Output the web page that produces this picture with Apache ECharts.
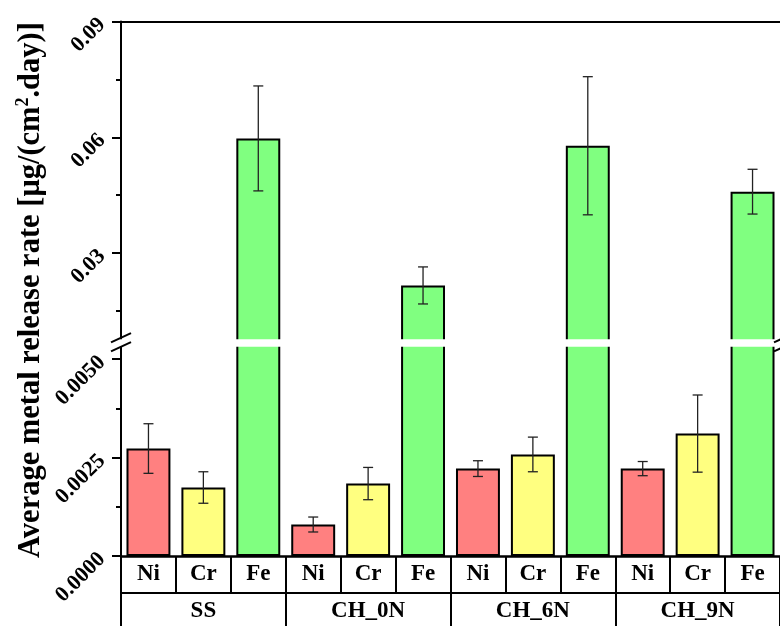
<!DOCTYPE html>
<html>
<head>
<meta charset="utf-8">
<script src="https://cdn.jsdelivr.net/npm/echarts@6/dist/echarts.min.js"></script>
<style>html,body{margin:0;padding:0;background:#fff}#c{width:780px;height:626px}</style>
</head>
<body>
<div id="c"></div>
<script>
// ---- data ----
const groups = ['SS', 'CH_0N', 'CH_6N', 'CH_9N'];
const metals = ['Ni', 'Cr', 'Fe'];
const niRate = [0.00273, 0.00080, 0.00222, 0.00222];
const niErr  = [0.00063, 0.00019, 0.00020, 0.00018];
const crRate = [0.00174, 0.00184, 0.00258, 0.00311];
const crErr  = [0.00040, 0.00041, 0.00044, 0.00098];
const feRate = [0.0597, 0.0216, 0.0578, 0.0459];
const feErr  = [0.0136, 0.0048, 0.0179, 0.0058];
const upperTicks = [0.03, 0.06, 0.09];
const upperMinor = [0.015, 0.045, 0.075];
const lowerTicks = [0, 0.0025, 0.005];
const lowerMinor = [0.00125, 0.00375];

// ---- styles / layout ----
const FONT = 'Liberation Serif';
const metalColors = {Ni: '#FF8080', Cr: '#FFFF80', Fe: '#80FF80'};
const LEFT = 121, WIDTH = 663;
const UP_TOP = 21.5, UP_H = 319.5, UP_MIN = 0.0072, UP_MAX = 0.09;
const LO_TOP = 345, LO_H = 211, LO_MIN = 0, LO_MAX = 0.00536;
const GAP_Y0 = 339.3, GAP_Y1 = 346.7;

const rates = {Ni: niRate, Cr: crRate, Fe: feRate};
const errs = {Ni: niErr, Cr: crErr, Fe: feErr};
const categories = [];
const barData = [];
const errUpper = [], errLower = [];
groups.forEach((g, gi) => {
  metals.forEach(m => {
    const idx = categories.length;
    categories.push(m);
    const v = rates[m][gi], e = errs[m][gi];
    barData.push({value: v, itemStyle: {color: metalColors[m]}});
    if (v > UP_MIN) errUpper.push([idx, v - e, v + e]);
    else errLower.push([idx, v - e, v + e]);
  });
});

function renderErr(params, api) {
  const x = api.value(0);
  const hi = api.coord([x, api.value(2)]);
  const lo = api.coord([x, api.value(1)]);
  const hw = 5;
  const style = {stroke: '#222', lineWidth: 1.3};
  return {type: 'group', children: [
    {type: 'line', shape: {x1: hi[0], y1: hi[1], x2: lo[0], y2: lo[1]}, style: style},
    {type: 'line', shape: {x1: hi[0] - hw, y1: hi[1], x2: hi[0] + hw, y2: hi[1]}, style: style},
    {type: 'line', shape: {x1: lo[0] - hw, y1: lo[1], x2: lo[0] + hw, y2: lo[1]}, style: style}
  ]};
}

const axisLineStyle = {color: '#000', width: 2};
const labelFont = {fontFamily: FONT, fontWeight: 'bold', color: '#000'};

function yMain(gi, min, max, ticks, dec) {
  return {
    type: 'value', gridIndex: gi, position: 'left', min: min, max: max,
    axisLine: {show: true, onZero: false, lineStyle: axisLineStyle},
    axisTick: {show: true, customValues: ticks, length: 9, inside: false, lineStyle: {color: '#000', width: 2}},
    axisLabel: Object.assign({show: true, customValues: ticks, rotate: 45, margin: 19, fontSize: 22,
      formatter: v => Number(v).toFixed(dec)}, labelFont),
    splitLine: {show: false}
  };
}
function yMinor(gi, min, max, ticks) {
  return {
    type: 'value', gridIndex: gi, position: 'left', min: min, max: max,
    axisLine: {show: false, onZero: false},
    axisTick: {show: true, customValues: ticks, length: 5, inside: false, lineStyle: {color: '#000', width: 2}},
    axisLabel: {show: false},
    splitLine: {show: false}
  };
}

function slashes(x0) {
  return [337.7, 346.7].map(y => ({
    type: 'line', z: 101,
    shape: {x1: x0 - 10, y1: y + 4.6, x2: x0 + 10, y2: y - 4.6},
    style: {stroke: '#000', lineWidth: 2}
  }));
}

const chart = echarts.init(document.getElementById('c'), null, {renderer: 'canvas'});
chart.setOption({
  animation: false,
  backgroundColor: '#fff',
  grid: [
    {left: LEFT, width: WIDTH, top: UP_TOP, height: UP_H},
    {left: LEFT, width: WIDTH, top: LO_TOP, height: LO_H}
  ],
  xAxis: [
    {type: 'category', gridIndex: 0, data: categories, position: 'top',
     axisLine: {show: true, onZero: false, lineStyle: axisLineStyle}, axisTick: {show: false}, axisLabel: {show: false}},
    {type: 'category', gridIndex: 1, data: categories, position: 'bottom',
     axisLine: {show: true, onZero: false, lineStyle: {color: '#000', width: 2.5}},
     axisTick: {show: true, interval: 0, length: 37, alignWithLabel: false, lineStyle: {color: '#000', width: 2}},
     axisLabel: Object.assign({interval: 0, margin: 7, fontSize: 23}, labelFont)},
    {type: 'category', gridIndex: 1, data: groups, position: 'bottom', offset: 37,
     axisLine: {show: true, onZero: false, lineStyle: axisLineStyle},
     axisTick: {show: true, interval: 0, length: 40, alignWithLabel: false, lineStyle: {color: '#000', width: 2}},
     axisLabel: Object.assign({interval: 0, margin: 7, fontSize: 23}, labelFont)}
  ],
  yAxis: [
    yMain(0, UP_MIN, UP_MAX, upperTicks, 2),
    yMinor(0, UP_MIN, UP_MAX, upperMinor),
    yMain(1, LO_MIN, LO_MAX, lowerTicks, 4),
    yMinor(1, LO_MIN, LO_MAX, lowerMinor)
  ],
  series: [
    {type: 'bar', xAxisIndex: 0, yAxisIndex: 0, data: barData, barCategoryGap: '20%', clip: true,
     itemStyle: {borderColor: '#000', borderWidth: 2}},
    {type: 'bar', xAxisIndex: 1, yAxisIndex: 2, data: barData, barCategoryGap: '20%', clip: true,
     itemStyle: {borderColor: '#000', borderWidth: 2}},
    {type: 'custom', xAxisIndex: 0, yAxisIndex: 0, data: errUpper, renderItem: renderErr,
     encode: {x: 0, y: [1, 2]}, z: 5},
    {type: 'custom', xAxisIndex: 1, yAxisIndex: 2, data: errLower, renderItem: renderErr,
     encode: {x: 0, y: [1, 2]}, z: 5}
  ],
  graphic: [
    {type: 'rect', z: 100, shape: {x: 100, y: GAP_Y0, width: 700, height: GAP_Y1 - GAP_Y0},
     style: {fill: '#fff'}},
    ...slashes(LEFT), ...slashes(LEFT + WIDTH),
    {type: 'text', z: 100, x: 31, y: 290, rotation: Math.PI / 2,
     style: {
       text: 'Average metal release rate [μg/(cm{sup|2}.day)]',
       fontFamily: FONT, fontWeight: 'bold', fontSize: 30.5, lineHeight: 34, fill: '#000',
       align: 'center', verticalAlign: 'middle',
       rich: {sup: {fontFamily: FONT, fontWeight: 'bold', fontSize: 18, lineHeight: 18, verticalAlign: 'top', fill: '#000'}}
     }}
  ]
});
</script>
</body>
</html>
